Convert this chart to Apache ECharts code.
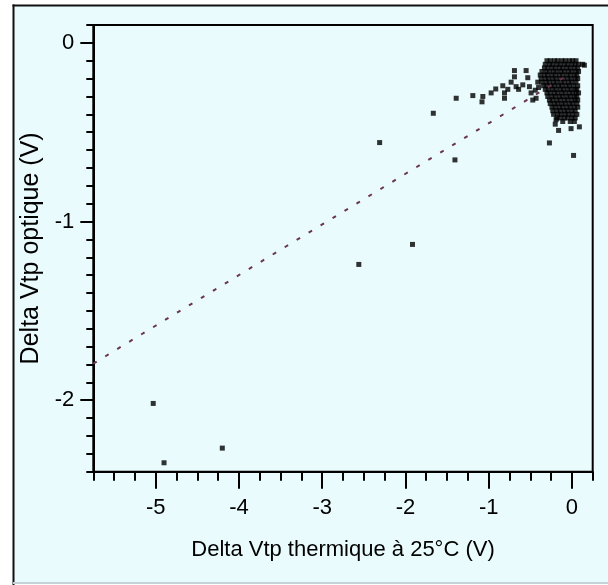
<!DOCTYPE html>
<html>
<head>
<meta charset="utf-8">
<script src="https://cdn.jsdelivr.net/npm/echarts@6/dist/echarts.min.js"></script>
<style>
html,body{margin:0;padding:0;background:#fff;}
#c{width:608px;height:585px;}
</style>
</head>
<body>
<div id="c"></div>
<script>
// ---- axis ticks / labels ----
const xMajorTicks = [-5, -4, -3, -2, -1, 0];
const yMajorTicks = [-2, -1, 0];
const xTitle = 'Delta Vtp thermique à 25°C (V)';
const yTitle = 'Delta Vtp optique (V)';

// ---- isolated points ----
const outlierX = [-5.03, -4.90, -4.20, -2.56, -2.31, -1.915, -1.665, -1.405];
const outlierY = [-2.018, -2.35, -2.268, -1.24, -0.558, -1.128, -0.394, -0.655];

// ---- sparse points around the main cluster ----
const nearX = [-1.39, -1.19, -1.07, -1.08, -0.97, -0.915, -0.83, -0.81, -0.81, -0.77, -0.73, -0.69, -0.69, -0.67, -0.64, -0.59, -0.55, -0.53, -0.51, -0.49, -0.47, -0.44, -0.43, -0.41, -0.40,
               -0.16, -0.01, 0.09, -0.27, 0.02, 0.15, -0.20, -0.19];
const nearY = [-0.31, -0.295, -0.30, -0.33, -0.28, -0.258, -0.24, -0.28, -0.31, -0.26, -0.22, -0.155, -0.19, -0.245, -0.26, -0.235, -0.155, -0.195, -0.245, -0.28, -0.32, -0.265, -0.31, -0.22, -0.25,
               -0.49, -0.48, -0.47, -0.56, -0.63, -0.125, -0.455, -0.43];

// ---- dense cluster, read row by row ----
const clusterRowY = [-0.10, -0.12, -0.14, -0.16, -0.18, -0.20, -0.22, -0.24, -0.26, -0.28, -0.30, -0.32, -0.34, -0.36, -0.38, -0.40, -0.42, -0.44];
const clusterRowX = [
  [-0.30,-0.26,-0.21,-0.17,-0.12,-0.08,-0.03,0.01,0.05],
  [-0.32,-0.27,-0.23,-0.18,-0.14,-0.09,-0.05,0.00,0.04,0.08,0.13],
  [-0.33,-0.29,-0.24,-0.20,-0.15,-0.11,-0.06,-0.02,0.03,0.07],
  [-0.36,-0.31,-0.27,-0.22,-0.18,-0.13,-0.09,-0.04,0.00,0.05,0.08],
  [-0.38,-0.33,-0.29,-0.24,-0.20,-0.15,-0.11,-0.06,-0.02,0.03,0.06],
  [-0.37,-0.32,-0.28,-0.23,-0.19,-0.14,-0.10,-0.05,-0.01,0.04,0.07],
  [-0.36,-0.31,-0.27,-0.22,-0.18,-0.13,-0.09,-0.04,0.00,0.05],
  [-0.34,-0.30,-0.25,-0.21,-0.16,-0.12,-0.07,-0.03,0.02,0.07],
  [-0.32,-0.28,-0.23,-0.19,-0.14,-0.10,-0.05,-0.01,0.04,0.06],
  [-0.30,-0.26,-0.21,-0.17,-0.12,-0.08,-0.03,0.01,0.05,0.08],
  [-0.29,-0.24,-0.20,-0.15,-0.11,-0.06,-0.02,0.03,0.06],
  [-0.27,-0.23,-0.18,-0.14,-0.09,-0.05,0.00,0.04,0.07],
  [-0.26,-0.21,-0.17,-0.12,-0.08,-0.03,0.01,0.06],
  [-0.24,-0.20,-0.15,-0.11,-0.06,-0.02,0.03,0.07],
  [-0.23,-0.18,-0.14,-0.09,-0.05,0.00,0.04],
  [-0.22,-0.17,-0.13,-0.08,-0.04,0.01,0.06],
  [-0.18,-0.14,-0.09,-0.05,0.00,0.04],
  [-0.11,-0.02,0.03]
];

// ---- fitted trend line (read at its two ends) ----
const fitX = [-5.75, -0.10];
const fitY = [-1.795, -0.195];

// ---- build data ----
const pts = [];
outlierX.forEach((x, i) => pts.push([x, outlierY[i]]));
nearX.forEach((x, i) => pts.push([x, nearY[i]]));
clusterRowY.forEach((y, r) => clusterRowX[r].forEach(x => pts.push([x, y])));
const fitData = fitX.map((x, i) => [x, fitY[i]]);

const FONT = '"Liberation Sans", Arial, sans-serif';
const BG = '#e9fbfd';

const chart = echarts.init(document.getElementById('c'), null, {renderer: 'canvas'});
chart.setOption({
  animation: false,
  backgroundColor: '#fff',
  textStyle: {fontFamily: FONT},
  graphic: [
    {type: 'rect', z: -100, silent: true, shape: {x: 13, y: 5, width: 600, height: 578}, style: {fill: BG}},
    {type: 'line', z: -90, silent: true, shape: {x1: 13.5, y1: 4.5, x2: 13.5, y2: 585}, style: {stroke: '#111', lineWidth: 2}},
    {type: 'line', z: -90, silent: true, shape: {x1: 12.5, y1: 5.5, x2: 608, y2: 5.5}, style: {stroke: '#111', lineWidth: 2}},
    {type: 'line', z: -90, silent: true, shape: {x1: 13, y1: 583, x2: 608, y2: 583}, style: {stroke: '#c5d3d8', lineWidth: 2}}
  ],
  grid: {
    left: 93.3, top: 25, right: 15.3, bottom: 113.3,
    show: true, borderColor: '#000', borderWidth: 2, backgroundColor: 'transparent'
  },
  xAxis: [
    {
      type: 'value', min: -5.75, max: 0.25, interval: 0.25, position: 'bottom',
      axisLine: {onZero: false, lineStyle: {color: '#000', width: 2}},
      axisTick: {show: true, length: 9, lineStyle: {color: '#000', width: 2}},
      axisLabel: {show: false},
      splitLine: {show: false}
    },
    {
      type: 'value', min: -5.75, max: 0.25, position: 'bottom',
      axisLine: {show: false, onZero: false},
      axisTick: {show: true, length: 17, customValues: xMajorTicks, lineStyle: {color: '#000', width: 2}},
      axisLabel: {show: true, customValues: xMajorTicks, margin: 25, fontSize: 22, color: '#000', fontFamily: FONT},
      splitLine: {show: false},
      name: xTitle, nameLocation: 'middle', nameGap: 67,
      nameTextStyle: {fontSize: 22, color: '#000', fontFamily: FONT}
    }
  ],
  yAxis: [
    {
      type: 'value', min: -2.4, max: 0.1, interval: 0.1, position: 'left',
      axisLine: {onZero: false, lineStyle: {color: '#000', width: 2}},
      axisTick: {show: true, length: 7, lineStyle: {color: '#000', width: 2}},
      axisLabel: {show: false},
      splitLine: {show: false}
    },
    {
      type: 'value', min: -2.4, max: 0.1, position: 'left',
      axisLine: {show: false, onZero: false},
      axisTick: {show: true, length: 13, customValues: yMajorTicks, lineStyle: {color: '#000', width: 2}},
      axisLabel: {show: true, customValues: yMajorTicks, margin: 19, fontSize: 22, color: '#000', fontFamily: FONT},
      splitLine: {show: false},
      name: yTitle, nameLocation: 'middle', nameGap: 40, nameRotate: 90,
      nameTextStyle: {fontSize: 25, color: '#000', fontFamily: FONT}
    }
  ],
  series: [
    {
      type: 'scatter', xAxisIndex: 0, yAxisIndex: 0,
      symbol: 'rect', symbolSize: 5,
      itemStyle: {color: '#000'},
      data: pts, z: 2
    },
    {
      type: 'line', xAxisIndex: 0, yAxisIndex: 0,
      data: fitData, showSymbol: false, symbol: 'none',
      lineStyle: {color: '#6b3550', width: 2, type: [4, 10]},
      z: 3
    }
  ]
});
</script>
</body>
</html>
